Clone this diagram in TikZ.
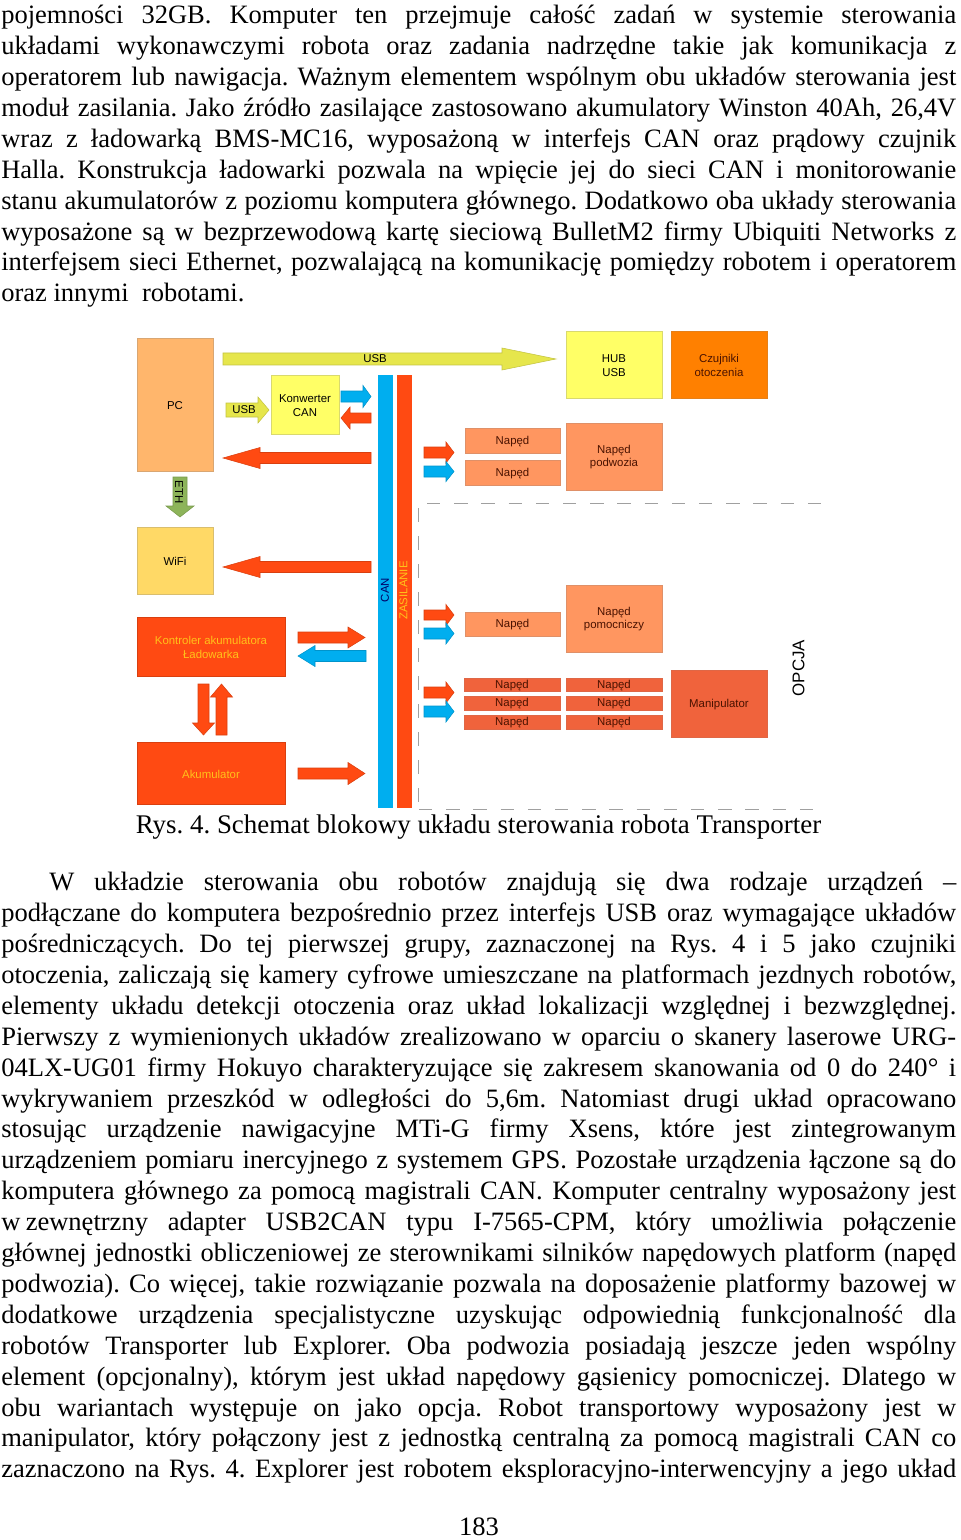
\documentclass[tikz,border=0pt]{standalone}
\usepackage{fontspec}
\setmainfont{Liberation Serif}
\newfontfamily\arialf{Liberation Sans}
\frenchspacing
\definecolor{cblue}{HTML}{00AEEF}
\definecolor{cred}{HTML}{FF4A12}
\definecolor{cusb}{HTML}{E6E64C}
\definecolor{ceth}{HTML}{8DB45A}
\definecolor{cpc}{HTML}{FFB66C}
\definecolor{cwifi}{HTML}{FFD966}
\definecolor{cyel}{HTML}{FFFF66}
\definecolor{corg}{HTML}{FF8000}
\definecolor{cnap}{HTML}{FF9660}
\definecolor{cman}{HTML}{F0633C}
\definecolor{ctxt}{HTML}{4A1200}
\definecolor{clab}{HTML}{FFC21A}
\definecolor{cdash}{HTML}{A0A0A0}
\newcommand{\bx}[7]{%
  \pgfmathsetmacro\bw{(#4-#2)*0.75}\pgfmathsetmacro\bh{(#5-#3)*0.75}%
  \node[blockbox,#6,minimum width=\bw pt,minimum height=\bh pt] (#1) at ({(#2+#4)/2},{(#3+#5)/2}) {\rule{0pt}{7.6pt}#7};}
\newcommand{\harr}[7]{% x0 tip xhead ymid halfshaft halfhead colour
  \draw[blockarrow,fill=#7,draw=#7!85!black] (#1,#4-#5) -- (#3,#4-#5) -- (#3,#4-#6) -- (#2,#4) -- (#3,#4+#6) -- (#3,#4+#5) -- (#1,#4+#5) -- cycle;}
\newcommand{\varr}[7]{% y0 tip yhead xmid halfshaft halfhead colour
  \draw[blockarrow,fill=#7,draw=#7!85!black] (#4-#5,#1) -- (#4-#5,#3) -- (#4-#6,#3) -- (#4,#2) -- (#4+#6,#3) -- (#4+#5,#3) -- (#4+#5,#1) -- cycle;}
\tikzset{
  blockbox/.style={inner sep=0pt,align=center,font=\arialf\fontsize{8.55}{9.8}\selectfont,line width=0.5pt},
  blockarrow/.style={line width=0.4pt},
  smalllabel/.style={inner sep=0pt,font=\arialf\fontsize{8.55}{9.8}\selectfont},
  bodytext/.style={inner sep=0pt,anchor=north west,text width=716.25pt,align=justify,font=\fontsize{19.9}{23.175}\selectfont},
  dashline/.style={draw=cdash,line width=0.6pt,dash pattern=on 10pt off 10.4pt},
}
\begin{document}
\begin{tikzpicture}[x=0.75pt,y=-0.75pt]
\useasboundingbox (0,0) rectangle (960,1540);
\node[bodytext] (parA) at (1,5) {pojemności 32GB. Komputer ten przejmuje całość zadań w systemie sterowania\linebreak
układami wykonawczymi robota oraz zadania nadrzędne takie jak komunikacja z\linebreak
operatorem lub nawigacja. Ważnym elementem wspólnym obu układów sterowania jest\linebreak
moduł zasilania. Jako źródło zasilające zastosowano akumulatory Winston 40Ah, 26,4V\linebreak
wraz z ładowarką BMS-MC16, wyposażoną w interfejs CAN oraz prądowy czujnik\linebreak
Halla. Konstrukcja ładowarki pozwala na wpięcie jej do sieci CAN i monitorowanie\linebreak
stanu akumulatorów z poziomu komputera głównego. Dodatkowo oba układy sterowania\linebreak
wyposażone są w bezprzewodową kartę sieciową BulletM2 firmy Ubiquiti Networks z\linebreak
interfejsem sieci Ethernet, pozwalającą na komunikację pomiędzy robotem i operatorem\linebreak
oraz innymi~ robotami.\par};

% boxes
\bx{pc}{137}{338}{213}{471}{fill=cpc,draw=cpc!70!gray}{PC}
\bx{wifi}{137}{527}{213}{594}{fill=cwifi,draw=cwifi!70!gray}{WiFi}
\bx{konw}{271}{375}{339}{434}{fill=cyel,draw=cyel!70!gray}{Konwerter\\CAN}
\bx{hub}{566}{331}{662}{398}{fill=cyel,draw=cyel!70!gray}{HUB\\USB}
\bx{czuj}{671}{331}{767}{398}{fill=corg,draw=corg!80!gray,text=ctxt}{Czujniki\\otoczenia}
\bx{kontr}{137}{617}{285}{676}{fill=cred,draw=cred!85!black,text=clab}{Kontroler akumulatora\\Ładowarka}
\bx{akum}{137}{742}{285}{804}{fill=cred,draw=cred!85!black,text=clab}{Akumulator}
\bx{napA}{465}{428}{560}{453}{fill=cnap,draw=cnap!75!gray,text=ctxt}{Napęd}
\bx{napB}{465}{460}{560}{485}{fill=cnap,draw=cnap!75!gray,text=ctxt}{Napęd}
\bx{podw}{566}{423}{662}{490}{fill=cnap,draw=cnap!75!gray,text=ctxt}{Napęd\\podwozia}
\bx{napC}{465}{612}{560}{636}{fill=cnap,draw=cnap!75!gray,text=ctxt}{Napęd}
\bx{pomo}{566}{585}{662}{652}{fill=cnap,draw=cnap!75!gray,text=ctxt}{Napęd\\pomocniczy}
\bx{napD}{464}{678}{560}{691}{fill=cman,draw=cman!85!gray,text=ctxt}{Napęd}
\bx{napE}{464}{696}{560}{710}{fill=cman,draw=cman!85!gray,text=ctxt}{Napęd}
\bx{napF}{464}{715}{560}{729}{fill=cman,draw=cman!85!gray,text=ctxt}{Napęd}
\bx{napG}{566}{678}{662}{691}{fill=cman,draw=cman!85!gray,text=ctxt}{Napęd}
\bx{napH}{566}{696}{662}{710}{fill=cman,draw=cman!85!gray,text=ctxt}{Napęd}
\bx{napI}{566}{715}{662}{729}{fill=cman,draw=cman!85!gray,text=ctxt}{Napęd}
\bx{mani}{671}{670}{767}{737}{fill=cman,draw=cman!85!gray,text=ctxt}{Manipulator}
% buses
\node[blockbox,fill=cblue,draw=cblue,minimum width=10.5pt,minimum height=324pt] (can) at (385,591) {};
\node[blockbox,fill=cred,draw=cred,minimum width=10.5pt,minimum height=324pt] (zas) at (404,591) {};
\node[smalllabel,rotate=90,text=black!20!blue!50!black] (canl) at (385,590) {CAN};
\node[smalllabel,rotate=90,text=clab] (zasl) at (403.5,590.5) {ZASILANIE};
% arrows
\harr{223}{556}{502}{359}{6}{11}{cusb}
\harr{226}{269}{258}{410}{7}{13}{cusb}
\varr{477}{517}{506}{180}{7}{14}{ceth}
\harr{341}{371}{363}{396.5}{5.5}{11}{cblue}
\harr{371}{341}{350}{418}{5}{11}{cred}
\harr{371}{223}{260}{458}{5.5}{10.5}{cred}
\harr{371}{223}{260}{567}{5.5}{10.5}{cred}
\harr{298}{365}{348}{637.5}{5.5}{10.5}{cred}
\harr{366}{298}{315}{656}{5.5}{10.5}{cblue}
\harr{298}{365}{348}{773.5}{5.5}{11}{cred}
\varr{684}{735}{723}{203.5}{5.5}{11}{cred}
\varr{735}{684}{697}{221.5}{5.5}{11}{cred}
\harr{424}{454}{446}{452.5}{5.5}{10.5}{cred}
\harr{424}{454}{446}{471.5}{5.5}{10}{cblue}
\harr{424}{454}{446}{615}{5}{10.5}{cred}
\harr{424}{454}{446}{633.5}{5.5}{10.5}{cblue}
\harr{424}{454}{446}{692.5}{5.5}{10.5}{cred}
\harr{424}{454}{446}{711.5}{5.5}{10.5}{cblue}
% arrow labels
\node[smalllabel] (usbA) at (375,359) {USB};
\node[smalllabel] (usbB) at (244,410) {USB};
\node[smalllabel,rotate=-90] (eth) at (179,492) {ETH};
\node[smalllabel,font=\arialf\fontsize{12.7}{13}\selectfont,rotate=90] (opcja) at (798.5,668) {OPCJA};
% dashed frame
\coordinate (dA) at (427,503); \coordinate (dB) at (821,503);
\coordinate (dC) at (418,508); \coordinate (dD) at (418,809);
\coordinate (dF) at (419,809); \coordinate (dE) at (815,809);
\draw[dashline] (dA) -- (dB);
\draw[dashline,dash pattern=on 10.5pt off 10.5pt] (dC) -- (dD);
\draw[dashline] (dF) -- (dE);
% caption
\node[inner sep=0pt,font=\fontsize{20.2}{23.175}\selectfont] (capt) at (478.5,827) {Rys. 4. Schemat blokowy układu sterowania robota Transporter};

\node[bodytext] (parB) at (1,872) {\hspace*{36pt}W układzie sterowania obu robotów znajdują się dwa rodzaje urządzeń --\linebreak
podłączane do komputera bezpośrednio przez interfejs USB oraz wymagające układów\linebreak
pośredniczących. Do tej pierwszej grupy, zaznaczonej na Rys. 4 i 5 jako czujniki\linebreak
otoczenia, zaliczają się kamery cyfrowe umieszczane na platformach jezdnych robotów,\linebreak
elementy układu detekcji otoczenia oraz układ lokalizacji względnej i bezwzględnej.\linebreak
Pierwszy z wymienionych układów zrealizowano w oparciu o skanery laserowe URG-\linebreak
04LX-UG01 firmy Hokuyo charakteryzujące się zakresem skanowania od 0 do 240° i\linebreak
wykrywaniem przeszkód w odległości do 5,6m. Natomiast drugi układ opracowano\linebreak
stosując urządzenie nawigacyjne MTi-G firmy Xsens, które jest zintegrowanym\linebreak
urządzeniem pomiaru inercyjnego z systemem GPS. Pozostałe urządzenia łączone są do\linebreak
komputera głównego za pomocą magistrali CAN. Komputer centralny wyposażony jest\linebreak
w\hspace{4pt}zewnętrzny adapter USB2CAN typu I-7565-CPM, który umożliwia połączenie\linebreak
głównej jednostki obliczeniowej ze sterownikami silników napędowych platform (napęd\linebreak
podwozia). Co więcej, takie rozwiązanie pozwala na doposażenie platformy bazowej w\linebreak
dodatkowe urządzenia specjalistyczne uzyskując odpowiednią funkcjonalność dla\linebreak
robotów Transporter lub Explorer. Oba podwozia posiadają jeszcze jeden wspólny\linebreak
element (opcjonalny), którym jest układ napędowy gąsienicy pomocniczej. Dlatego w\linebreak
obu wariantach występuje on jako opcja. Robot transportowy wyposażony jest w\linebreak
manipulator, który połączony jest z jednostką centralną za pomocą magistrali CAN co\linebreak
zaznaczono na Rys. 4. Explorer jest robotem eksploracyjno-interwencyjny a jego układ\linebreak\par};
\node[inner sep=0pt,font=\fontsize{19.9}{23.175}\selectfont] (pageno) at (479,1527) {183};
\end{tikzpicture}
\end{document}
